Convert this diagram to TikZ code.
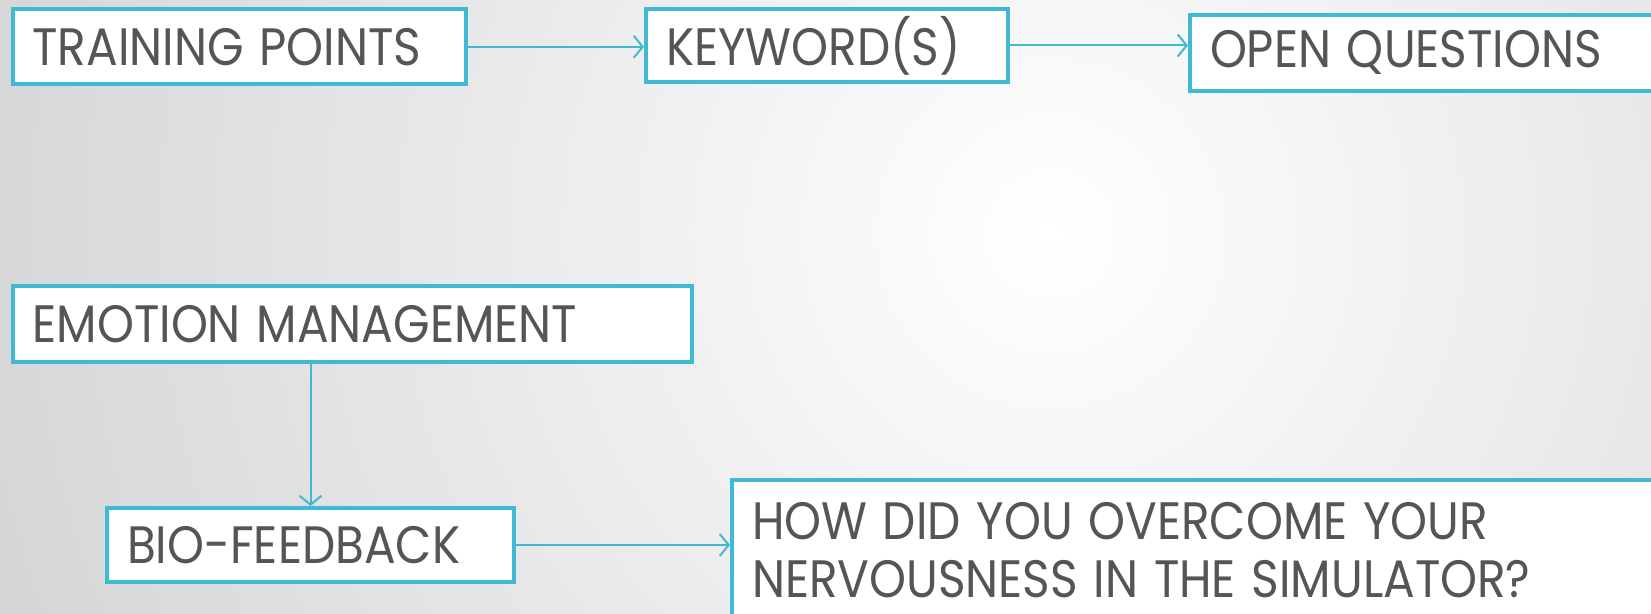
\documentclass[tikz,border=0pt]{standalone}
\usepackage{fontspec}
\setmainfont{Poppins}
\usetikzlibrary{arrows.meta}
\definecolor{boxline}{HTML}{40B9D4}
\definecolor{txt}{HTML}{555555}
\newcommand{\tall}[1]{\scalebox{1}[1.12]{#1}}
\tikzset{
  box/.style={draw=boxline, line width=4pt, fill=white, anchor=center, inner xsep=20pt, inner ysep=0pt, align=left, text=txt,
    font=\fontsize{47}{58}\selectfont},
  conn/.style={draw=boxline, line width=2pt, -{Straight Barb[length=9pt,width=22pt,line width=2pt]}},
}
\begin{document}
\begin{tikzpicture}[x=1pt,y=1pt]
\useasboundingbox (0,0) rectangle (1651,613);
\clip (0,0) rectangle (1651,613);
\shade[inner color=white, outer color=black!17] (1050,380) circle (1150);
\node[box, minimum width=453pt, minimum height=75pt, text width=413pt] (tp) at (239,566.2) {\tall{TRAINING POINTS}};
\node[box, minimum width=362pt, minimum height=73pt, text width=322pt] (kw) at (827,567.5) {\tall{KEYWORD(S)}};
\node[box, minimum width=465pt, minimum height=76pt, text width=425pt] (oq) at (1422.5,560.4) {\tall{OPEN QUESTIONS}};
\node[box, minimum width=679.5pt, minimum height=76pt, text width=639.5pt] (em) at (352.25,289) {\tall{EMOTION MANAGEMENT}};
\node[box, minimum width=407pt, minimum height=74pt, text width=367pt] (bf) at (310.5,68) {\tall{BIO-FEEDBACK}};
\node[box, minimum width=928pt, minimum height=140pt, text width=888pt] (hd) at (1196,63) {\tall{HOW DID YOU OVERCOME YOUR}\\\tall{NERVOUSNESS IN THE SIMULATOR?}};
\draw[conn] (tp.east) -- (tp.east -| kw.west);
\draw[conn] (kw.east) -- (kw.east -| oq.west);
\draw[conn] (bf.north |- em.south) -- (bf.north);
\draw[conn] (bf.east) -- (bf.east -| hd.west);
\end{tikzpicture}
\end{document}
